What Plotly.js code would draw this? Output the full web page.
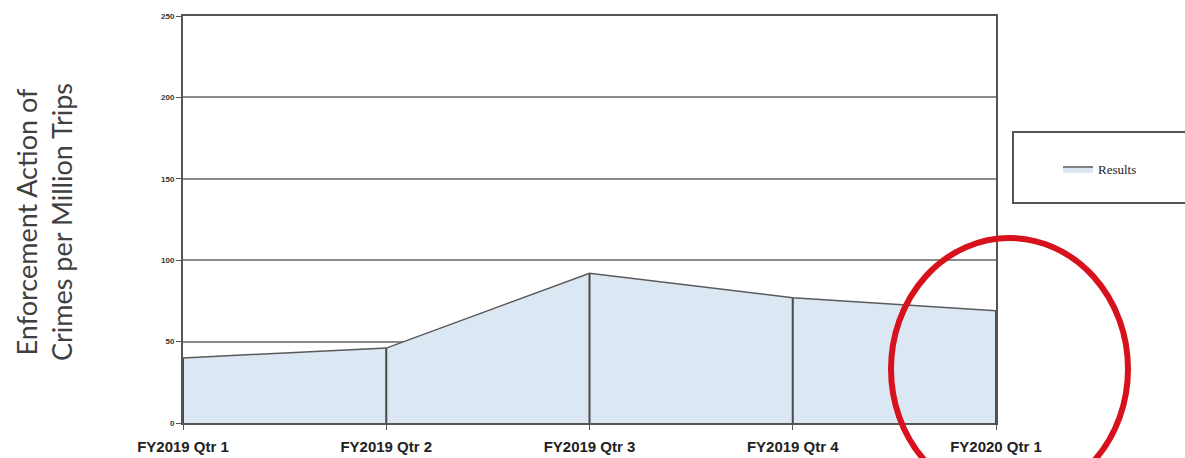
<!DOCTYPE html>
<html>
<head>
<meta charset="utf-8">
<script src="https://cdn.plot.ly/plotly-3.0.1.min.js"></script>
<style>html,body{margin:0;padding:0;background:#fff;}#chart{width:1185px;height:458px;}</style>
</head>
<body>
<div id="chart"></div>
<script>
var quarters = ["FY2019 Qtr 1", "FY2019 Qtr 2", "FY2019 Qtr 3", "FY2019 Qtr 4", "FY2020 Qtr 1"];
var results = [40, 46, 92, 77, 69];
var seriesName = "Results";
var yTicks = [0, 50, 100, 150, 200, 250];
var yTitle = "Enforcement Action of<br>Crimes per Million Trips";

var zeros = results.map(function(){ return 0; });

var trace = {
  x: quarters,
  y: results,
  type: "scatter",
  mode: "lines",
  name: seriesName,
  fill: "tozeroy",
  fillcolor: "#dce7f4",
  line: {color: "#5a5a5a", width: 1.5},
  error_y: {type: "data", symmetric: false, array: zeros, arrayminus: results, width: 0, thickness: 2, color: "#4a4a4a"},
  hoverinfo: "x+y"
};

var L = 183, R = 996, T = 16, B = 423;
function px(x){ return (x - L) / (R - L); }
function py(y){ return (B - y) / (B - T); }

var layout = {
  width: 1185, height: 458,
  margin: {l: L, r: 1185 - R, t: T, b: 458 - B, pad: 0},
  paper_bgcolor: "#ffffff",
  plot_bgcolor: "#ffffff",
  showlegend: true,
  legend: {
    x: px(1142), y: py(169), xanchor: "right", yanchor: "middle",
    itemwidth: 30,
    font: {family: "Liberation Serif, serif", size: 13, color: "#222"},
    bgcolor: "rgba(0,0,0,0)", borderwidth: 0
  },
  xaxis: {
    type: "category",
    range: [0, quarters.length - 1],
    showgrid: false, zeroline: false,
    showline: true, linecolor: "#555", linewidth: 2, mirror: true,
    ticks: "outside", ticklen: 5, tickcolor: "#555",
    ticklabelstandoff: 4,
    tickfont: {family: "Liberation Sans, Arial, sans-serif", size: 15, color: "#222", weight: "bold"},
    fixedrange: true
  },
  yaxis: {
    range: [0, 250],
    tickvals: yTicks,
    showgrid: true, gridcolor: "#8a8a8a", gridwidth: 2,
    zeroline: false,
    showline: true, linecolor: "#555", linewidth: 2, mirror: true,
    ticks: "outside", ticklen: 5, tickcolor: "#555",
    tickfont: {family: "Liberation Sans, Arial, sans-serif", size: 8, color: "#333", weight: "bold"},
    automargin: false,
    fixedrange: true
  },
  annotations: [
    {text: yTitle, xref: "paper", yref: "paper", x: px(44), y: py(222), xanchor: "center", yanchor: "middle",
     textangle: -90, showarrow: false,
     font: {family: "Lato, Open Sans, sans-serif", size: 27, color: "#404040"}}
  ],
  shapes: [
    {type: "rect", xref: "paper", yref: "paper", x0: px(1013), x1: px(1190), y0: py(203), y1: py(132),
     line: {color: "#555", width: 2}, fillcolor: "rgba(0,0,0,0)", layer: "above"},
    {type: "circle", xref: "paper", yref: "paper", x0: px(891), x1: px(1128), y0: py(500), y1: py(238),
     line: {color: "#d8121c", width: 6}, fillcolor: "rgba(0,0,0,0)", layer: "above"}
  ]
};

Plotly.newPlot("chart", [trace], layout, {displayModeBar: false, staticPlot: true});
</script>
</body>
</html>
